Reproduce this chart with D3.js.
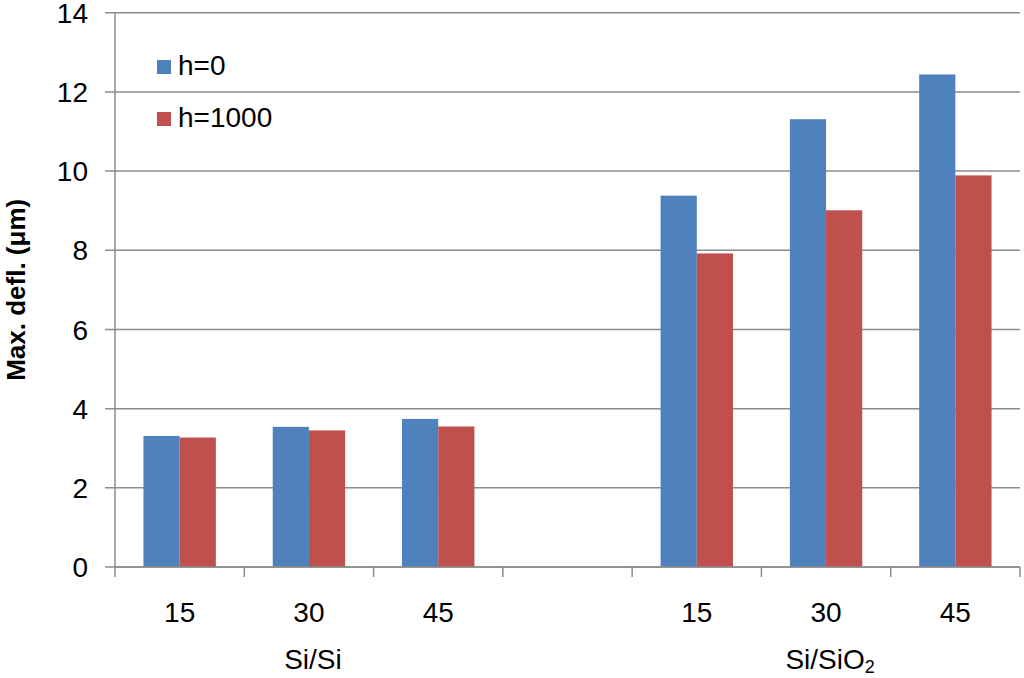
<!DOCTYPE html>
<html>
<head>
<meta charset="utf-8">
<script src="https://d3js.org/d3.v7.min.js"></script>
<style>
  body { margin: 0; background: #fff; }
  text { font-family: "Liberation Sans", Arial, sans-serif; fill: #000; }
</style>
</head>
<body>
<div id="chart"></div>
<script>
// categories along the x axis (one empty slot between the two groups)
const categories = ["15", "30", "45", "", "15", "30", "45"];
const groups = [
  { name: "Si/Si", from: 0, to: 2 },
  { name: "Si/SiO", sub: "2", from: 4, to: 6 }
];
const seriesNames = ["h=0", "h=1000"];
const h0 = [3.31, 3.54, 3.74, null, 9.38, 11.31, 12.44];
const h1000 = [3.27, 3.45, 3.55, null, 7.92, 9.01, 9.89];
const yTicks = [0, 2, 4, 6, 8, 10, 12, 14];
const colours = ["#4F81BD", "#C0504D"];

var width = 1024, height = 678;
var margin = { top: 12.7, right: 4, bottom: 111, left: 115 };

var svg = d3.select("#chart").append("svg")
  .attr("width", width)
  .attr("height", height);

var x0 = d3.scaleBand()
  .domain(d3.range(categories.length))
  .range([margin.left, width - margin.right])
  .padding(0);

var x1 = d3.scaleBand()
  .domain(seriesNames)
  .range([x0.bandwidth() * 0.22, x0.bandwidth() * 0.78]);

var y = d3.scaleLinear()
  .domain([0, 14])
  .range([height - margin.bottom, margin.top]);

// gridlines + y ticks
svg.append("g")
  .selectAll("line")
  .data(yTicks)
  .enter().append("line")
  .attr("x1", margin.left - 10)
  .attr("x2", width - margin.right)
  .attr("y1", d => y(d))
  .attr("y2", d => y(d))
  .attr("stroke", "#8c8c8c")
  .attr("stroke-width", 1.5);

svg.append("g")
  .selectAll("text")
  .data(yTicks)
  .enter().append("text")
  .attr("x", 88)
  .attr("y", d => y(d))
  .attr("dy", "0.36em")
  .attr("text-anchor", "end")
  .attr("font-size", 28)
  .text(d => d);

// bars
var data = categories.map((c, i) => ({ i: i, vals: [h0[i], h1000[i]] }));

var barG = svg.append("g")
  .selectAll("g")
  .data(data)
  .enter().append("g")
  .attr("transform", d => "translate(" + x0(d.i) + ",0)");

barG.selectAll("rect")
  .data(d => d.vals.map((v, k) => ({ v: v, k: k })).filter(e => e.v != null))
  .enter().append("rect")
  .attr("x", e => x1(seriesNames[e.k]))
  .attr("width", x1.bandwidth())
  .attr("y", e => y(e.v))
  .attr("height", e => y(0) - y(e.v))
  .attr("fill", e => colours[e.k]);

// y axis line
svg.append("line")
  .attr("x1", margin.left).attr("x2", margin.left)
  .attr("y1", y(14)).attr("y2", y(0))
  .attr("stroke", "#8c8c8c").attr("stroke-width", 1.5);

// x axis line and ticks
svg.append("line")
  .attr("x1", margin.left).attr("x2", width - margin.right)
  .attr("y1", y(0)).attr("y2", y(0))
  .attr("stroke", "#8c8c8c").attr("stroke-width", 1.5);

var boundaries = d3.range(categories.length + 1).map(i =>
  i < categories.length ? x0(i) : x0(i - 1) + x0.bandwidth());

svg.append("g")
  .selectAll("line")
  .data(boundaries)
  .enter().append("line")
  .attr("x1", d => d).attr("x2", d => d)
  .attr("y1", y(0)).attr("y2", y(0) + 10)
  .attr("stroke", "#8c8c8c").attr("stroke-width", 1.5);

svg.append("g")
  .selectAll("text")
  .data(data)
  .enter().append("text")
  .attr("x", d => x0(d.i) + x0.bandwidth() / 2)
  .attr("y", 622)
  .attr("text-anchor", "middle")
  .attr("font-size", 28)
  .text(d => categories[d.i]);

// group labels
var gl = svg.append("g")
  .selectAll("text")
  .data(groups)
  .enter().append("text")
  .attr("x", g => (x0(g.from) + x0(g.to) + x0.bandwidth()) / 2 + 4)
  .attr("y", 669)
  .attr("text-anchor", "middle")
  .attr("font-size", 28);
gl.append("tspan").text(g => g.name);
gl.filter(g => g.sub).append("tspan")
  .attr("font-size", 18)
  .attr("dy", 4)
  .text(g => g.sub);

// y title
svg.append("text")
  .attr("transform", "translate(25," + ((y(0) + y(14)) / 2) + ") rotate(-90)")
  .attr("text-anchor", "middle")
  .attr("font-size", 26)
  .attr("font-weight", "bold")
  .text("Max. defl. (\u03bcm)");

// legend
var leg = svg.append("g")
  .selectAll("g")
  .data(seriesNames)
  .enter().append("g")
  .attr("transform", (d, i) => "translate(157," + (60 + i * 52) + ")");

leg.append("rect")
  .attr("width", 14).attr("height", 14)
  .attr("fill", (d, i) => colours[i]);

leg.append("text")
  .attr("x", 21)
  .attr("y", 15)
  .attr("font-size", 28)
  .text(d => d);
</script>
</body>
</html>
